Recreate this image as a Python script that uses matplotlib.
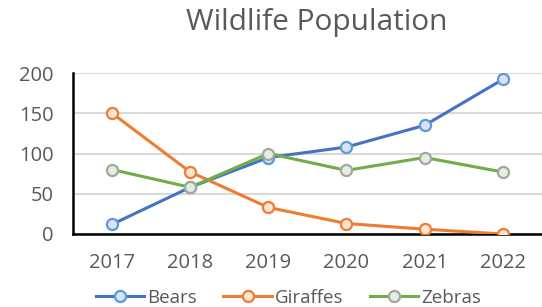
import matplotlib
matplotlib.use('Agg')
import matplotlib.pyplot as plt

years = ['2017', '2018', '2019', '2020', '2021', '2022']
bears = [12, 58, 95, 108, 135, 192]
giraffes = [150, 77, 33, 13, 6, 0]
zebras = [80, 58, 100, 79, 95, 77]

plt.rcParams['font.family'] = ['Open Sans', 'DejaVu Sans']
grey = '#595959'

fig = plt.figure(figsize=(5.42, 3.07), dpi=100)
ax = fig.add_axes([0.1347, 0.2378, 0.865, 0.5244])

x = range(len(years))
ax.plot(x, bears, color='#4472C4', lw=2.2, marker='o', ms=8,
        mfc='#DAE3F3', mec='#5B9BD5', mew=1.6, label='Bears', zorder=3)
ax.plot(x, giraffes, color='#ED7D31', lw=2.2, marker='o', ms=8,
        mfc='#FBE5D6', mec='#ED7D31', mew=1.6, label='Giraffes', zorder=3)
ax.plot(x, zebras, color='#70AD47', lw=2.2, marker='o', ms=8,
        mfc='#E2EFDA', mec='#A5A5A5', mew=1.6, label='Zebras', zorder=3)

ax.set_xlim(-0.5, len(years) - 0.5)
ax.set_ylim(0, 200)
ax.set_yticks([0, 50, 100, 150, 200])
ax.set_xticks(list(x))
ax.set_xticklabels(years)
ax.yaxis.grid(True, color='#D9D9D9', lw=1.5)
ax.set_axisbelow(True)
for s in ['top', 'right']:
    ax.spines[s].set_visible(False)
for s in ['left', 'bottom']:
    ax.spines[s].set_color('black')
    ax.spines[s].set_linewidth(1.8)
ax.tick_params(length=0, labelsize=14.5, labelcolor=grey, pad=14)
ax.tick_params(axis='y', pad=14)

fig.text(0.584, 0.928, 'Wildlife Population', ha='center', va='center',
         fontsize=21.5, color=grey)

fig.legend(loc='center', bbox_to_anchor=(0.532, 0.03), ncol=3, frameon=False,
           fontsize=13.5, labelcolor=grey, handlelength=2.6, handletextpad=0.15,
           columnspacing=1.4, borderaxespad=0)

fig.savefig('out.png', dpi=100)
